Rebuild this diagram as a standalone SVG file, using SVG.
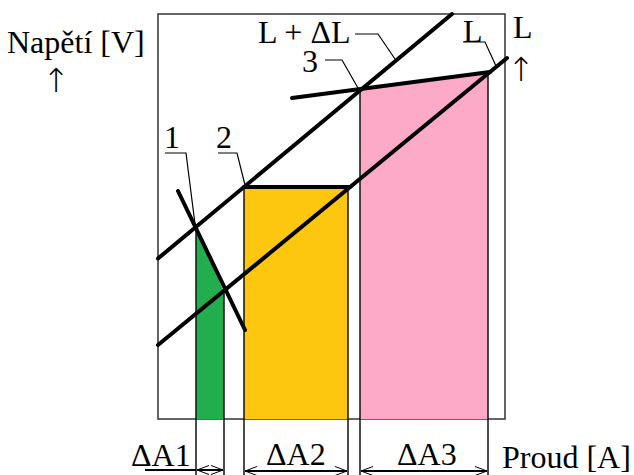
<svg xmlns="http://www.w3.org/2000/svg" width="634" height="475" viewBox="0 0 634 475">
<style>
text{font-family:"Liberation Serif","Times New Roman",serif;font-size:32px;fill:#000}
text.arr{font-family:"DejaVu Sans","DejaVu Serif",sans-serif;font-weight:200;font-size:33px;text-anchor:middle}
.thick{stroke:#000;stroke-width:4;fill:none;stroke-linecap:round}
.thin{stroke:#000;stroke-width:1.2;fill:none}
.ext{stroke:#111;stroke-width:1.5;fill:none}
.dim{stroke:#000;stroke-width:2;fill:none}
</style>
<defs>
<marker id="ah" viewBox="0 0 12 10" refX="12" refY="5" markerWidth="12" markerHeight="10" markerUnits="userSpaceOnUse" orient="auto-start-reverse">
<path d="M0,0.5 L12,5 L0,9.5" fill="none" stroke="#000" stroke-width="1"/>
</marker>
</defs>
<rect width="634" height="475" fill="#fff"/>
<g id="frame"><rect x="158" y="14" width="347" height="405" fill="none" stroke="#333" stroke-width="1.5"/></g>
<g id="areas">
<polygon id="area1" points="196,228 224,292 224,419 196,419" fill="#22AE4C"/>
<rect id="area2" x="244" y="187" width="104" height="232" fill="#FDC70F"/>
<polygon id="area3" points="360,89.5 488,72 488,419 360,419" fill="#FCAAC8"/>
</g>
<g id="connectors">
<line class="thick" x1="158" y1="258.5" x2="452" y2="14"/>
<line class="thick" x1="158" y1="345" x2="507" y2="58"/>
<line class="thick" x1="178" y1="191" x2="245" y2="330"/>
<line class="thick" x1="244" y1="187" x2="350" y2="187"/>
<line class="thick" x1="292" y1="98" x2="490" y2="72"/>
<polyline class="thin" points="165,153 186,153 195,224"/>
<polyline class="thin" points="218,153 237,153 245,185"/>
<polyline class="thin" points="355,34 378,34 395,59"/>
<polyline class="thin" points="325,60 342,60 358,88"/>
<polyline class="thin" points="463,42 485,42 496,66"/>
<line class="ext" x1="196" y1="228" x2="196" y2="475"/>
<line class="ext" x1="224" y1="292" x2="224" y2="475"/>
<line class="ext" x1="244" y1="187" x2="244" y2="475"/>
<line class="ext" x1="348" y1="187" x2="348" y2="475"/>
<line class="ext" x1="360" y1="89" x2="360" y2="475"/>
<line class="ext" x1="488" y1="72" x2="488" y2="475"/>
<line class="dim" x1="145" y1="470" x2="196" y2="470"/>
<line class="dim" x1="197" y1="470" x2="223" y2="470" marker-start="url(#ah)" marker-end="url(#ah)"/>
<line class="dim" x1="245" y1="471" x2="347" y2="471" marker-start="url(#ah)" marker-end="url(#ah)"/>
<line class="dim" x1="361" y1="471" x2="487" y2="471" marker-start="url(#ah)" marker-end="url(#ah)"/>
</g>
<g id="labels">
<text x="7" y="53">Napětí [V]</text>
<text class="arr" x="56" y="92">↑</text>
<text x="513" y="38">L</text>
<text class="arr" x="521" y="81">↑</text>
<text x="258" y="43">L + ΔL</text>
<text x="302" y="72">3</text>
<text x="463" y="42">L</text>
<text x="164" y="148">1</text>
<text x="216" y="148">2</text>
<text x="131" y="466">ΔA1</text>
<text x="266" y="465">ΔA2</text>
<text x="397" y="465">ΔA3</text>
<text x="502" y="468">Proud [A]</text>
</g>
</svg>
